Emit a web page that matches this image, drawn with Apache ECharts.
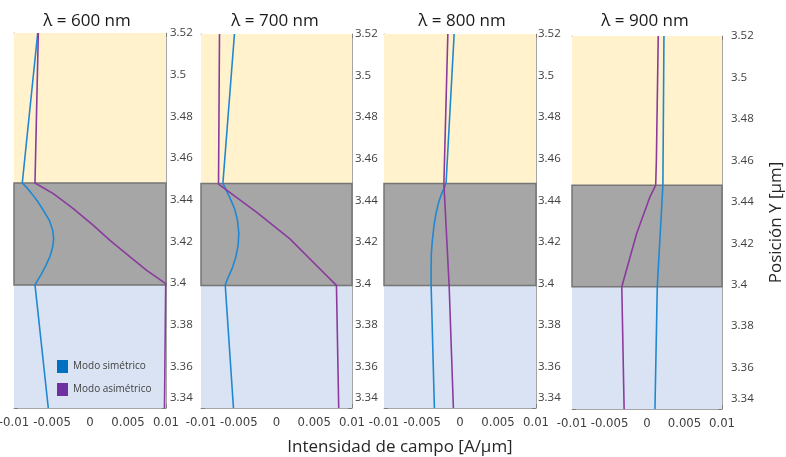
<!DOCTYPE html>
<html>
<head>
<meta charset="utf-8">
<script src="https://cdn.jsdelivr.net/npm/echarts@6/dist/echarts.min.js"></script>
<style>
  html, body { margin: 0; padding: 0; background: #ffffff; }
  #chart { width: 786px; height: 457px; }
</style>
</head>
<body>
<div id="chart"></div>
<script>
// Panel titles (wavelength)
const panelTitles = ['λ = 600 nm', 'λ = 700 nm', 'λ = 800 nm', 'λ = 900 nm'];
const seriesNames = ['Modo simétrico', 'Modo asimétrico'];

// Layer limits along Y [μm]
const yMin = 3.34, yMax = 3.52;
const layerLow = 3.399;   // lower / middle layer interface
const layerHigh = 3.448;  // middle / upper layer interface

// Field intensity axis
const xMin = -0.01, xMax = 0.01;

// λ = 600 nm
const sim600Y = [3.52, 3.448, 3.4458, 3.4429, 3.4394, 3.4349, 3.4301, 3.4253, 3.4213, 3.4173, 3.4128, 3.4085, 3.4037, 3.3992, 3.34];
const sim600X = [-0.00688, -0.00891, -0.00833, -0.00767, -0.00693, -0.00614, -0.00535, -0.00491, -0.00478, -0.00491, -0.00526, -0.00579, -0.00649, -0.00724, -0.00549];
const asim600Y = [3.52, 3.448, 3.4429, 3.4357, 3.4277, 3.4205, 3.4125, 3.4061, 3.3997, 3.34];
const asim600X = [-0.0068, -0.00724, -0.00483, -0.0022, 0.00044, 0.00263, 0.00527, 0.00746, 0.00996, 0.0098];

// λ = 700 nm
const sim700Y = [3.52, 3.4481, 3.4449, 3.4409, 3.4361, 3.4304, 3.424, 3.4184, 3.4128, 3.4072, 3.4029, 3.3992, 3.34];
const sim700X = [-0.00557, -0.0071, -0.00666, -0.00614, -0.00557, -0.00517, -0.00499, -0.00508, -0.00538, -0.00587, -0.0064, -0.00679, -0.0057];
const asim700Y = [3.52, 3.4477, 3.4342, 3.4214, 3.4086, 3.399, 3.34];
const asim700X = [-0.00755, -0.00768, -0.00261, 0.00178, 0.0053, 0.00794, 0.00824];

// λ = 800 nm
const sim800Y = [3.52, 3.4484, 3.4457, 3.4433, 3.4393, 3.4337, 3.4281, 3.4209, 3.4145, 3.408, 3.3992, 3.34];
const sim800X = [-0.00077, -0.00183, -0.00209, -0.0024, -0.00279, -0.00315, -0.00341, -0.00363, -0.00377, -0.0038, -0.0038, -0.00337];
const asim800Y = [3.52, 3.448, 3.399, 3.34];
const asim800X = [-0.0016, -0.00212, -0.00143, -0.00087];

// λ = 900 nm
const sim900Y = [3.52, 3.448, 3.399, 3.34];
const sim900X = [0.00226, 0.00212, 0.00137, 0.00106];
const asim900Y = [3.52, 3.46, 3.448, 3.4424, 3.4248, 3.399, 3.34];
const asim900X = [0.0015, 0.00125, 0.00116, 0.0004, -0.00137, -0.00336, -0.00305];

const simX = [sim600X, sim700X, sim800X, sim900X];
const simY = [sim600Y, sim700Y, sim800Y, sim900Y];
const asimX = [asim600X, asim700X, asim800X, asim900X];
const asimY = [asim600Y, asim700Y, asim800Y, asim900Y];

// Styling
const lineBlue = '#1f88d2';
const linePurple = '#8b3a9e';
const legendBlue = '#0070c0';
const legendPurple = '#7030a0';
const bandTop = '#fff2cc';
const bandMid = '#a6a6a6';
const bandLow = '#dae3f3';
const frame = '#a6a6a6';
const tickColor = '#808080';
const labelColor = '#404040';
const narrowFont = '"Liberation Sans Narrow", "DejaVu Sans Condensed", sans-serif';

// Panel rectangles and right label gap
const panels = [
  { left: 14,  top: 33, width: 152, height: 375, gap: 4 },
  { left: 201, top: 34, width: 151, height: 374, gap: 3 },
  { left: 384, top: 34, width: 152, height: 374, gap: 2 },
  { left: 572, top: 36, width: 150, height: 373, gap: 9 }
];
const titleCenters = [82, 270, 457, 640];

const pairs = (xs, ys) => xs.map((x, i) => [x, ys[i]]);
const fmtY = v => String(+v.toFixed(2));
const fmtX = v => String(+v.toFixed(3));

const grids = [], xAxes = [], yAxes = [], series = [], titles = [];

panels.forEach((p, i) => {
  grids.push({
    left: p.left, top: p.top, width: p.width, height: p.height,
    containLabel: false, outerBoundsMode: 'none'
  });

  const xBase = {
    type: 'value', gridIndex: i, min: xMin, max: xMax, interval: 0.005,
    axisLine: { show: true, onZero: false, lineStyle: { color: frame, width: 1 } },
    axisTick: { show: true, inside: true, length: 4, lineStyle: { color: tickColor } },
    splitLine: { show: false }
  };
  xAxes.push(Object.assign({}, xBase, {
    position: 'bottom',
    axisLabel: {
      show: true, margin: 8, color: labelColor, fontSize: 13, fontFamily: narrowFont,
      showMinLabel: true, showMaxLabel: true,
      formatter: fmtX
    }
  }));
  xAxes.push(Object.assign({}, xBase, { position: 'top', axisLabel: { show: false } }));

  const yBase = {
    type: 'value', gridIndex: i, min: yMin, max: yMax, interval: 0.02,
    axisLine: { show: true, onZero: false, lineStyle: { color: frame, width: 1 } },
    axisTick: { show: true, inside: true, length: 4, lineStyle: { color: tickColor } },
    splitLine: { show: false }
  };
  const yRight = Object.assign({}, yBase, {
    position: 'right',
    axisLabel: {
      show: true, margin: p.gap, color: labelColor, fontSize: 11.5,
      fontFamily: '"Open Sans", sans-serif',
      showMinLabel: true, showMaxLabel: true,
      formatter: v => Math.abs(v - yMin) < 1e-9 ? '{lo|' + fmtY(v) + '}' : fmtY(v),
      rich: { lo: { padding: [0, 0, 20, 0], fontSize: 11.5, color: labelColor, fontFamily: '"Open Sans", sans-serif' } }
    }
  });
  if (i === 3) {
    Object.assign(yRight, {
      name: 'Posición Y [μm]', nameLocation: 'middle', nameRotate: 90, nameGap: 46,
      nameTextStyle: { fontSize: 17, color: '#262626', fontFamily: '"Open Sans", sans-serif' }
    });
  }
  yAxes.push(yRight);
  yAxes.push(Object.assign({}, yBase, { position: 'left', axisLabel: { show: false } }));

  // Layer backgrounds; the middle layer carries a darker outline
  series.push({
    type: 'line', name: 'capas', xAxisIndex: 2 * i, yAxisIndex: 2 * i, data: [],
    silent: true, z: 1,
    markArea: {
      silent: true,
      data: [
        [{ yAxis: layerHigh, itemStyle: { color: bandTop } }, { yAxis: yMax }],
        [{ yAxis: yMin, itemStyle: { color: bandLow } }, { yAxis: layerLow }],
        [{ yAxis: layerLow, itemStyle: { color: bandMid, borderColor: '#767676', borderWidth: 1.5 } }, { yAxis: layerHigh }]
      ]
    }
  });

  series.push({
    type: 'line', name: seriesNames[0], xAxisIndex: 2 * i, yAxisIndex: 2 * i,
    data: pairs(simX[i], simY[i]), showSymbol: false, z: 3,
    lineStyle: { color: lineBlue, width: 1.6 }, itemStyle: { color: lineBlue }
  });
  series.push({
    type: 'line', name: seriesNames[1], xAxisIndex: 2 * i, yAxisIndex: 2 * i,
    data: pairs(asimX[i], asimY[i]), showSymbol: false, z: 3,
    lineStyle: { color: linePurple, width: 1.6 }, itemStyle: { color: linePurple }
  });

  titles.push({
    text: panelTitles[i], left: titleCenters[i], top: 8, textAlign: 'center',
    textStyle: { fontSize: 17, fontWeight: 'normal', color: '#1a1a1a', fontFamily: '"Open Sans", sans-serif' }
  });
});

titles.push({
  text: 'Intensidad de campo [A/μm]', left: 395, top: 434, textAlign: 'center',
  textStyle: { fontSize: 17, fontWeight: 'normal', color: '#262626', fontFamily: '"Open Sans", sans-serif' }
});

const chart = echarts.init(document.getElementById('chart'), null, { renderer: 'canvas' });
chart.setOption({
  animation: false,
  backgroundColor: '#ffffff',
  title: titles,
  legend: {
    orient: 'vertical', left: 52, top: 355, itemWidth: 11, itemHeight: 13, itemGap: 10,
    icon: 'rect', selectedMode: false,
    textStyle: { fontSize: 10, color: labelColor, fontFamily: '"Open Sans", sans-serif' },
    data: [
      { name: seriesNames[0], itemStyle: { color: legendBlue } },
      { name: seriesNames[1], itemStyle: { color: legendPurple } }
    ]
  },
  grid: grids,
  xAxis: xAxes,
  yAxis: yAxes,
  series: series
});
</script>
</body>
</html>
